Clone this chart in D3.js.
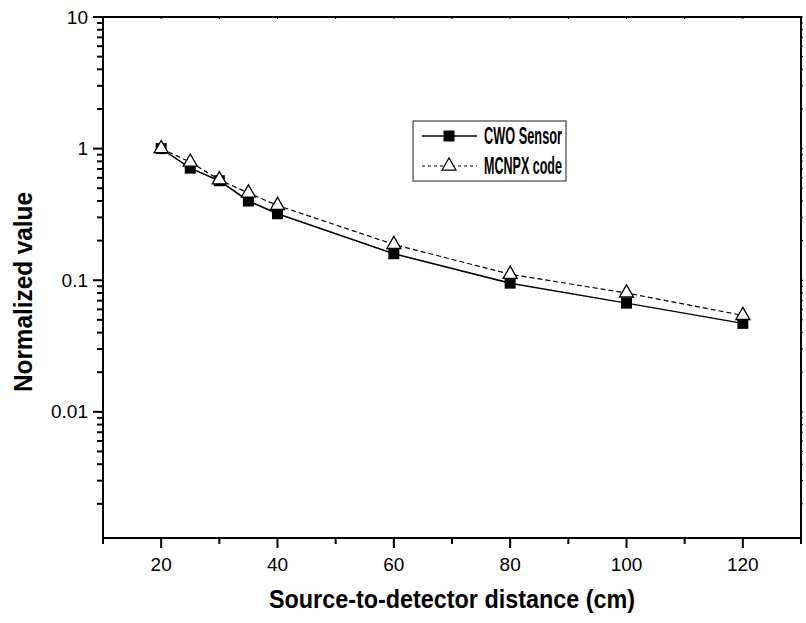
<!DOCTYPE html>
<html lang="en">
<head>
<meta charset="UTF-8">
<title>Normalized value vs distance</title>
<style>
  body { margin: 0; background: #fff; }
  svg { display: block; font-family: 'Liberation Sans', Arial, sans-serif; }
</style>
<script src="https://d3js.org/d3.v7.min.js"></script>
</head>
<body>
<div id="chart"></div>
<script>
  // data
  const distances = [20, 25, 30, 35, 40, 60, 80, 100, 120];
  const cwoSensor = [1.0, 0.71, 0.57, 0.40, 0.32, 0.159, 0.095, 0.067, 0.047];
  const mcnpxCode = [1.0, 0.79, 0.58, 0.46, 0.37, 0.187, 0.111, 0.080, 0.054];
  const xTicks = [20, 40, 60, 80, 100, 120];
  const yTicks = [10, 1, 0.1, 0.01];
  const yTickLabels = ['10', '1', '0.1', '0.01'];

  const W = 806, H = 623;
  const M = { top: 17, right: 5, bottom: 85, left: 103 };

  const svg = d3.select('#chart').append('svg')
    .attr('width', W).attr('height', H);

  const x = d3.scaleLinear().domain([10, 130]).range([M.left, W - M.right]);
  const y = d3.scaleLog().domain([0.0011, 10]).range([H - M.bottom, M.top]);

  const x0 = M.left, x1 = W - M.right, y0 = H - M.bottom, y1 = M.top;

  // minor positions
  const xMinor = d3.range(10, 131, 10).filter(v => xTicks.indexOf(v) < 0);
  const yMinor = [];
  [0.001, 0.01, 0.1, 1].forEach(d => { for (let k = 2; k <= 9; k++) { const v = d * k; if (v >= 0.0011) yMinor.push(v); } });

  const ax = svg.append('g').attr('stroke', '#000');

  // bottom ticks (outward)
  xTicks.forEach(v => ax.append('line').attr('x1', x(v)).attr('x2', x(v)).attr('y1', y0).attr('y2', y0 + 10).attr('stroke-width', 2));
  xMinor.forEach(v => ax.append('line').attr('x1', x(v)).attr('x2', x(v)).attr('y1', y0).attr('y2', y0 + 6).attr('stroke-width', 2));
  // top ticks (tiny, inward)
  d3.range(10, 131, 10).forEach(v => ax.append('line').attr('x1', x(v)).attr('x2', x(v)).attr('y1', y1).attr('y2', y1 + 2).attr('stroke-width', 1));

  // left ticks (outward)
  yTicks.forEach(v => ax.append('line').attr('x1', x0 - 10).attr('x2', x0).attr('y1', y(v)).attr('y2', y(v)).attr('stroke-width', 2));
  yMinor.forEach(v => ax.append('line').attr('x1', x0 - 6).attr('x2', x0).attr('y1', y(v)).attr('y2', y(v)).attr('stroke-width', 2));
  // right ticks (tiny)
  yTicks.concat(yMinor).forEach(v => ax.append('line').attr('x1', x1).attr('x2', x1 + 2).attr('y1', y(v)).attr('y2', y(v)).attr('stroke-width', 1));

  // frame
  svg.append('rect')
    .attr('x', x0).attr('y', y1).attr('width', x1 - x0).attr('height', y0 - y1)
    .attr('fill', 'none').attr('stroke', '#000').attr('stroke-width', 2);

  // tick labels
  svg.append('g').selectAll('text').data(xTicks).join('text')
    .attr('x', d => x(d)).attr('y', y0 + 33)
    .attr('text-anchor', 'middle').attr('font-size', 19)
    .text(d => d);
  svg.append('g').selectAll('text').data(yTicks).join('text')
    .attr('x', x0 - 15).attr('y', d => y(d)).attr('dy', '0.35em')
    .attr('text-anchor', 'end').attr('font-size', 19)
    .text((d, i) => yTickLabels[i]);

  // axis titles
  svg.append('text')
    .attr('x', (x0 + x1) / 2).attr('y', y0 + 70)
    .attr('text-anchor', 'middle').attr('font-size', 25).attr('font-weight', 'bold')
    .attr('textLength', 366).attr('lengthAdjust', 'spacingAndGlyphs')
    .text('Source-to-detector distance (cm)');
  svg.append('text')
    .attr('transform', `translate(32, 292) rotate(-90)`)
    .attr('text-anchor', 'middle').attr('font-size', 25).attr('font-weight', 'bold')
    .attr('textLength', 200).attr('lengthAdjust', 'spacingAndGlyphs')
    .text('Normalized value');

  // series
  const line = (vals) => d3.line().x((d, i) => x(distances[i])).y(d => y(d))(vals);

  svg.append('path').attr('d', line(cwoSensor))
    .attr('fill', 'none').attr('stroke', '#000').attr('stroke-width', 1.5);
  svg.append('path').attr('d', line(mcnpxCode))
    .attr('fill', 'none').attr('stroke', '#000').attr('stroke-width', 1.2)
    .attr('stroke-dasharray', '5,3');

  const sq = d3.symbol().type(d3.symbolSquare).size(121);
  const tri = d3.symbol().type(d3.symbolTriangle).size(85);

  svg.append('g').selectAll('path').data(cwoSensor).join('path')
    .attr('d', sq)
    .attr('transform', (d, i) => `translate(${x(distances[i])},${y(d)})`)
    .attr('fill', '#000');
  svg.append('g').selectAll('path').data(mcnpxCode).join('path')
    .attr('d', tri)
    .attr('transform', (d, i) => `translate(${x(distances[i])},${y(d)})`)
    .attr('fill', '#fff').attr('stroke', '#000').attr('stroke-width', 1.3);

  // legend
  const lg = svg.append('g').attr('transform', 'translate(413,121)');
  lg.append('rect').attr('width', 153).attr('height', 60)
    .attr('fill', '#fff').attr('stroke', '#444').attr('stroke-width', 1.2);
  const entries = [
    { name: 'CWO Sensor', dash: null, sym: sq, fill: '#000', sw: 1.5 },
    { name: 'MCNPX code', dash: '3,3', sym: tri, fill: '#fff', sw: 1 }
  ];
  entries.forEach((e, i) => {
    const yy = 15 + i * 30;
    lg.append('line').attr('x1', 9).attr('x2', 64).attr('y1', yy).attr('y2', yy)
      .attr('stroke', '#000').attr('stroke-width', e.sw)
      .attr('stroke-dasharray', e.dash);
    lg.append('path').attr('d', e.sym).attr('transform', `translate(36,${yy})`)
      .attr('fill', e.fill).attr('stroke', i ? '#000' : 'none').attr('stroke-width', 1.2);
    lg.append('text').attr('x', 71).attr('y', yy).attr('dy', '0.36em')
      .attr('font-size', 23).attr('font-weight', 'bold')
      .attr('textLength', 78).attr('lengthAdjust', 'spacingAndGlyphs')
      .text(e.name);
  });
</script>
</body>
</html>
